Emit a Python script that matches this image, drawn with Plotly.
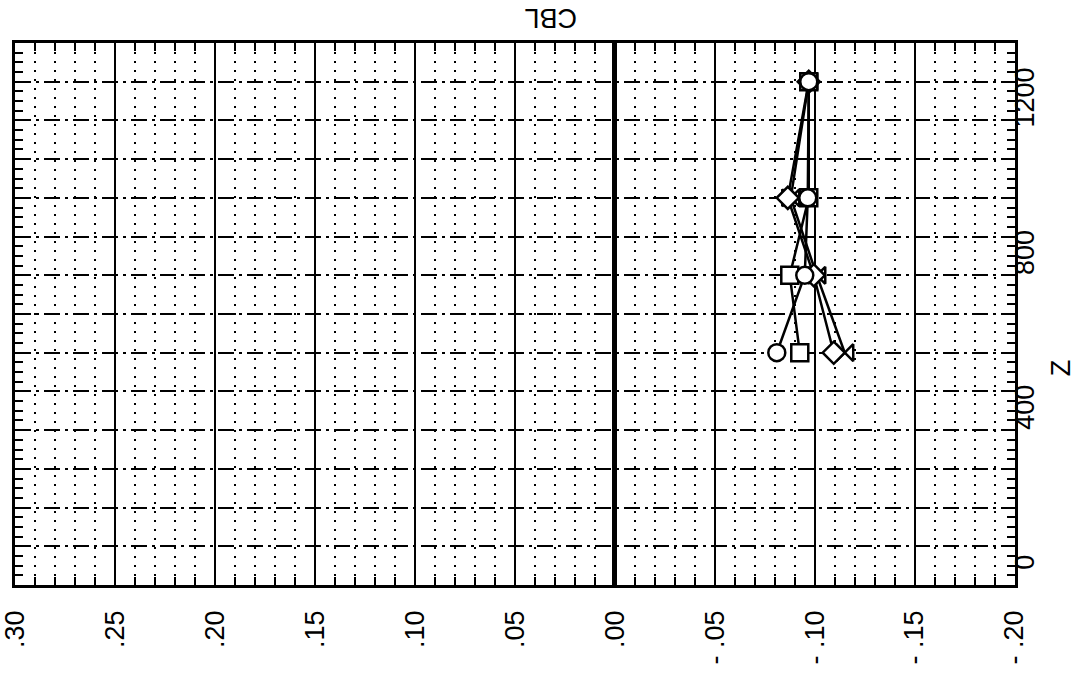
import plotly.graph_objects as go

# ---- data ----
z_levels = [500, 700, 900, 1200]
cbl_circle = [-0.081, -0.095, -0.0965, -0.097]
cbl_square = [-0.0925, -0.0875, -0.097, -0.097]
cbl_diamond = [-0.1095, -0.0995, -0.0865, -0.097]
cbl_bowtie = [-0.115, -0.101, -0.088, -0.097]

cbl_tick_vals = [0.30, 0.25, 0.20, 0.15, 0.10, 0.05, 0.00, -0.05, -0.10, -0.15, -0.20]
cbl_tick_text = [".30", ".25", ".20", ".15", ".10", ".05", ".00", "- .05", "- .10", "- .15", "- .20"]
z_tick_vals = [-100, 0, 100, 200, 300, 400, 500, 600, 700, 800, 900, 1000, 1100, 1200, 1300]
z_tick_text = ["", "0", "", "", "", "400", "", "", "", "800", "", "", "", "1200", ""]

FONT = "Liberation Sans, Arial, sans-serif"

fig = go.Figure()
series = [
    (cbl_bowtie, "bowtie"),
    (cbl_diamond, "diamond"),
    (cbl_square, "square"),
    (cbl_circle, "circle"),
]
for vals, sym in series:
    fig.add_trace(go.Scatter(
        x=vals, y=z_levels, mode="lines+markers",
        line=dict(color="black", width=2.5),
        marker=dict(symbol=sym, size=17, color="white",
                    line=dict(color="black", width=2.5)),
        showlegend=False, cliponaxis=False,
    ))

fig.update_xaxes(
    range=[0.3002, -0.2002], autorange=False, automargin=False,
    tickvals=cbl_tick_vals, ticktext=cbl_tick_text, tickangle=-90,
    tickfont=dict(family=FONT, size=27, color="black"),
    ticks="inside", ticklen=10, tickwidth=2, tickcolor="black",
    showgrid=True, gridcolor="black", gridwidth=2,
    zeroline=True, zerolinecolor="black", zerolinewidth=4.5,
    showline=True, linecolor="black", linewidth=2.5, mirror="ticks",
    ticklabelstandoff=12,
    minor=dict(dtick=0.01, tick0=0, ticks="inside", ticklen=8, tickwidth=2,
               tickcolor="black", showgrid=True, gridcolor="black",
               gridwidth=2, griddash="2px,7px"),
)
fig.update_yaxes(
    range=[-100, 1300], autorange=False, side="right", automargin=False,
    tickvals=z_tick_vals, ticktext=z_tick_text, tickangle=-90,
    tickfont=dict(family=FONT, size=27, color="black"),
    ticklabelposition="outside bottom", ticklabelstandoff=-16,
    ticks="inside", ticklen=9, tickwidth=2, tickcolor="black",
    showgrid=True, gridcolor="black", gridwidth=1.5, griddash="16px,5px,3px,5px",
    zeroline=False,
    showline=True, linecolor="black", linewidth=2.5, mirror="ticks",
    minor=dict(dtick=25, tick0=0, ticks="inside", ticklen=8, tickwidth=2,
               tickcolor="black", showgrid=False),
)

fig.add_annotation(text="CBL", textangle=180, xref="paper", yref="paper",
                   x=0.536, y=1.0, yshift=25, yanchor="middle", xanchor="center",
                   showarrow=False,
                   font=dict(family=FONT, size=27, color="black"))
fig.add_annotation(text="Z", textangle=-90, xref="paper", yref="paper",
                   x=1.0, xshift=46, y=0.40, xanchor="center", yanchor="middle",
                   showarrow=False,
                   font=dict(family=FONT, size=27, color="black"))

fig.update_layout(
    width=1075, height=693,
    margin=dict(l=15, r=60, t=43, b=108),
    paper_bgcolor="white", plot_bgcolor="white",
)

fig.write_html("out.html", config={"displayModeBar": False},
               post_script="document.body.style.margin='0px';document.body.style.overflow='hidden';")
